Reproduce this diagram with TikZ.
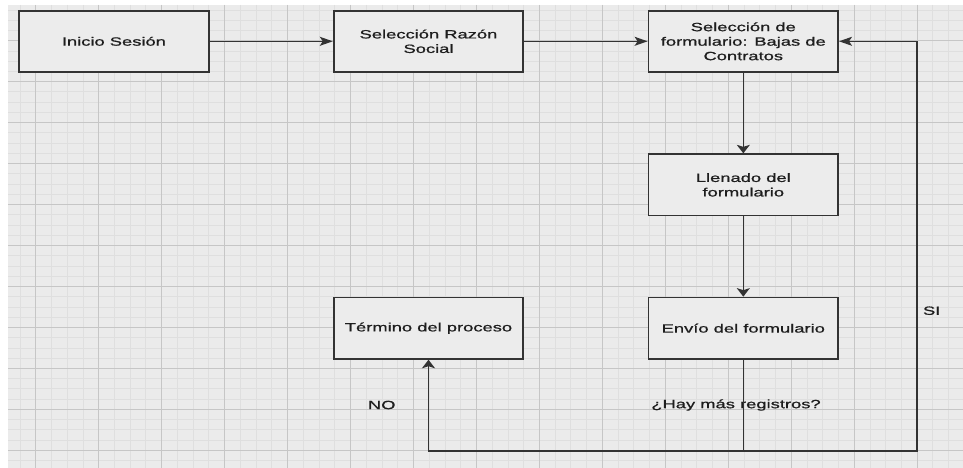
\documentclass[tikz,border=0pt]{standalone}
\usepackage{fontspec}
\setmainfont{Liberation Sans}[FakeStretch=1.53,FakeBold=0.9]
\usetikzlibrary{arrows.meta}
\definecolor{bgc}{HTML}{EBEBEB}
\definecolor{minorc}{HTML}{DFDFDF}
\definecolor{majorc}{HTML}{C6C6C6}
\definecolor{boxfill}{HTML}{ECECEC}
\definecolor{ink}{HTML}{333333}
\definecolor{txt}{HTML}{1E1E1E}
\tikzset{
  minorline/.style={draw=minorc, line width=0.8pt},
  majorline/.style={draw=majorc, line width=0.8pt},
  procbox/.style={draw=ink, fill=boxfill, line width=1.8pt, minimum width=189.6pt, minimum height=61.3pt,
    inner sep=0pt, align=center, text=txt, font=\fontsize{12}{14.5}\selectfont},
  lbl/.style={text=txt, font=\fontsize{12}{14.5}\selectfont, inner sep=0pt},
  conn/.style={draw=ink, line width=1.5pt},
  harr/.style={conn, -{Stealth[length=13pt,width=9pt,inset=3pt]}},
  varr/.style={conn, -{Stealth[length=8.5pt,width=13pt,inset=2pt]}}
}
\begin{document}
\begin{tikzpicture}[x=1pt,y=-1pt]
\useasboundingbox (0,0) rectangle (963,468);
\fill[white] (0,0) rectangle (963,468);
\fill[bgc] (8,5) rectangle (963,468);
% grid
\foreach \k in {-1,...,58} {
  \pgfmathsetmacro\xx{35.7+15.74*\k}
  \draw[minorline] (\xx,5) -- (\xx,468);
}
\foreach \k in {-3,...,41} {
  \pgfmathsetmacro\yy{40.7+10.24*\k}
  \draw[minorline] (8,\yy) -- (963,\yy);
}
\foreach \k in {0,...,14} {
  \pgfmathsetmacro\xx{35.7+62.96*\k}
  \draw[majorline] (\xx,5) -- (\xx,468);
}
\foreach \k in {0,...,10} {
  \pgfmathsetmacro\yy{40.7+40.96*\k}
  \draw[majorline] (8,\yy) -- (963,\yy);
}
% boxes
\node[procbox] (inicio) at (113.9,41.3) {Inicio Sesión};
\node[procbox] (razon) at (428.5,41.3) {Selección Razón\\Social};
\node[procbox] (selform) at (743.3,41.3) {Selección de\\formulario: Bajas de\\Contratos};
\node[procbox] (llenado) at (743.3,184.9) {Llenado del\\formulario};
\node[procbox] (envio) at (743.3,328.2) {Envío del formulario};
\node[procbox] (termino) at (428.5,328.2) {Término del proceso};
% labels
\node[lbl] (lblsi) at (931.7,310.7) {SI};
\node[lbl] (lblno) at (381.7,405) {NO};
\node[lbl] (lblq) at (736,405) {¿Hay más registros?};
% connectors
\coordinate (junc) at (743.3,451);
\coordinate (corner) at (917,451);
\draw[harr] (inicio) -- (razon);
\draw[harr] (razon) -- (selform);
\draw[varr] (selform) -- (llenado);
\draw[varr] (llenado) -- (envio);
\draw[conn] (envio.south) -- (junc);
\draw[varr] (junc) -| (termino.south);
\draw[harr] (junc) -- (corner) |- (selform.east);
\end{tikzpicture}
\end{document}
